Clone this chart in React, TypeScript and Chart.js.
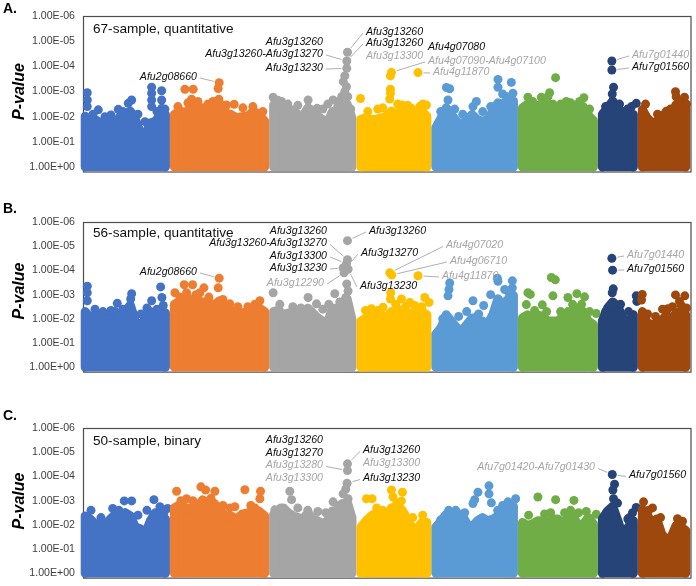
import React, { useEffect, useRef } from "react";
import { Chart, registerables } from "chart.js";

Chart.register(...registerables);

// ---------- data ----------
const CHROMOSOMES = ["Chr1", "Chr2", "Chr3", "Chr4", "Chr5", "Chr6", "Chr7", "Chr8"];
// genome-index span (marker positions) covered by each chromosome
const CHR_SPANS: [number, number][] = [
  [2.2, 82.5], [91.5, 181.8], [190.8, 269.2], [278.2, 344.2],
  [353.2, 430.8], [439.8, 510.8], [519.8, 550.8], [559.8, 603.2],
];
const GENOME_MAX = 609;
// y values are -log10(P)
const Y_TICKS = [0, 1, 2, 3, 4, 5, 6];
const Y_TICK_LABELS = ["1.00E+00", "1.00E-01", "1.00E-02", "1.00E-03", "1.00E-04", "1.00E-05", "1.00E-06"];

// upper envelope of the dense marker cloud, per chromosome (-log10 P, evenly along each chromosome)
const MASS_67 = [
  [2.02, 1.82, 1.89, 1.75, 1.69, 1.89, 1.75, 2.02, 2.09, 2.22, 1.89, 1.36, 1.29, 1.75, 1.82, 2.09, 2.09],
  [2.09, 2.22, 2.15, 2.42, 2.28, 2.35, 2.22, 2.28, 2.48, 2.15, 2.09, 1.95, 2.0, 2.02, 2.22, 2.09, 1.82],
  [2.48, 2.48, 2.35, 2.32, 2.22, 2.09, 2.02, 2.35, 2.22, 2.02, 1.89, 1.75, 2.2, 2.09, 2.6, 2.5, 1.95],
  [1.89, 1.95, 1.89, 1.89, 1.95, 2.02, 2.22, 2.09, 2.22, 2.09, 2.09, 2.09, 2.22, 2.02],
  [1.56, 1.95, 2.35, 2.09, 1.82, 1.69, 1.89, 2.09, 1.89, 1.82, 1.89, 2.22, 2.55, 2.48, 2.68, 2.62],
  [2.35, 2.5, 2.4, 2.45, 2.1, 2.4, 2.5, 2.2, 2.3, 2.4, 2.35, 2.2, 2.4, 2.05, 1.85],
  [2.09, 2.35, 2.62, 2.35, 2.15, 1.89, 2.09],
  [2.28, 1.95, 1.75, 1.82, 1.89, 2.22, 2.02, 2.48, 2.22, 2.35],
];
// individual markers standing out above the cloud: [genome index, -log10 P]
const PEAKS_67: [number, number][][] = [
  [[4.3, 2.95], [4.3, 2.66], [4.3, 2.4], [15.3, 2.27], [28, 2.07], [35.3, 2.29], [45.3, 2.53], [48.7, 2.66], [68.7, 3.17], [68.7, 2.93], [68.7, 2.66], [68.7, 2.4], [78.7, 3.03], [78.7, 2.66], [78.7, 2.33],
   [10, 2.1], [22, 2.0], [40, 2.2], [55, 2.1], [62, 1.8], [74, 2.2], [82, 2.3]],
  [[102, 3.09], [110.3, 3.09], [136.3, 3.35], [135.3, 3.12], [136, 2.69], [108.7, 2.69], [143.7, 2.46], [151.3, 2.49],
   [95, 2.4], [105, 2.55], [115, 2.6], [125, 2.5], [130, 2.6], [140, 2.45], [160, 2.35], [170, 2.4], [180, 2.2]],
  [[190.3, 2.77], [198.7, 2.6], [225.3, 2.66], [234.3, 2.33], [250.3, 2.66], [256, 2.6], [259, 2.8], [264.7, 4.56], [264, 4.21], [264, 3.92], [262, 3.62], [260.5, 3.39], [263.7, 3.19], [262, 2.99], [265, 2.79], [261, 2.66], [263.5, 2.4],
   [195, 2.65], [205, 2.5], [215, 2.45], [240, 2.3], [245, 2.5], [255, 2.4], [268, 2.3]],
  [[277.7, 2.72], [308.7, 3.76], [307.7, 3.62], [307.7, 3.09], [307.7, 2.93], [307, 2.7], [319.7, 2.46], [328.7, 2.33], [343.7, 2.46], [335.3, 3.75], [337, 2.4],
   [285, 2.2], [295, 2.3], [300, 2.35], [315, 2.5], [325, 2.45], [340, 2.5]],
  [[363.7, 3.16], [367, 3.11], [365.3, 2.66], [390.3, 2.4], [393.7, 2.6], [415.3, 3.48], [428.7, 3.36], [415.3, 3.17], [423.7, 2.8], [430.3, 2.93],
   [358, 2.2], [372, 2.3], [380, 2.1], [400, 2.2], [408, 2.4], [420, 2.9]],
  [[473, 3.55], [445.3, 2.77], [458.7, 2.77], [467, 2.95], [465.3, 2.79], [483.7, 2.6], [492, 2.46], [501.3, 2.75],
   [450, 2.6], [462, 2.6], [478, 2.5], [488, 2.55], [497, 2.6], [507, 2.3]],
  [[529.3, 4.21], [529.3, 3.85], [531, 3.17], [529.7, 2.9], [553.7, 2.53],
   [523, 2.4], [537, 2.5], [545, 2.3], [549, 2.4]],
  [[593, 2.99], [593.7, 2.79], [602, 2.77], [599.7, 2.53],
   [563, 2.5], [575, 2.1], [588, 2.3], [597, 2.6], [604, 2.5]],
];

const MASS_56 = [
  [2.30, 2.04, 2.17, 2.10, 2.17, 2.17, 2.30, 2.04, 2.30, 2.57, 1.91, 1.64, 2.04, 2.30, 1.91, 2.30, 2.24],
  [2.6, 2.75, 2.85, 2.8, 2.75, 2.7, 2.7, 2.55, 2.75, 2.45, 2.35, 2.2, 2.25, 2.3, 2.3, 2.45, 2.3],
  [2.30, 2.37, 2.17, 2.24, 2.17, 2.24, 2.17, 2.44, 2.24, 2.04, 1.91, 1.84, 2.44, 2.44, 2.57, 2.84, 1.97],
  [1.91, 2.04, 2.10, 2.04, 2.17, 2.04, 2.30, 2.24, 2.37, 2.17, 2.24, 2.24, 2.30, 2.17],
  [1.37, 1.64, 2.17, 1.91, 1.64, 1.51, 1.77, 2.04, 1.84, 1.91, 1.77, 2.17, 2.83, 2.57, 2.83, 2.97],
  [2.04, 2.17, 2.04, 2.17, 2.10, 1.91, 1.91, 1.91, 2.10, 2.30, 2.24, 2.44, 2.30, 1.91, 1.77],
  [1.91, 2.44, 2.70, 2.50, 2.04, 1.77, 2.17],
  [2.30, 1.84, 1.77, 1.77, 1.91, 2.17, 1.97, 2.24, 2.30, 2.17],
];
const PEAKS_56: [number, number][][] = [
  [[4.3, 3.35], [4.3, 3.08], [4.3, 2.75], [34.3, 2.64], [48.7, 3.04], [47.7, 2.82], [68.7, 2.75], [77.7, 3.32], [79, 2.88], [80.3, 2.55],
   [12, 2.4], [20, 2.3], [28, 2.35], [40, 2.4], [58, 2.2], [64, 2.45], [74, 2.4]],
  [[92, 3.08], [101.3, 3.41], [109.7, 3.41], [103.7, 3.08], [117, 3.08], [121, 3.28], [135.3, 3.28], [136.3, 3.68], [147, 2.62], [177, 2.75],
   [97, 2.9], [113, 3.0], [126, 2.9], [140, 2.8], [155, 2.5], [165, 2.5], [172, 2.6]],
  [[190.3, 3.08], [225.3, 2.88], [233.7, 2.62], [252, 3.04], [264.7, 5.23], [264.7, 4.44], [263.7, 4.28], [260.3, 4.10], [265.3, 4.05], [261.3, 3.90], [264, 3.44], [265.3, 3.15], [263, 2.88],
   [197, 2.6], [210, 2.5], [218, 2.45], [240, 2.4], [246, 2.6], [257, 2.7]],
  [[282.7, 2.35], [288.7, 2.42], [300.3, 2.48], [308, 3.08], [307.7, 2.82], [318.7, 2.82], [327, 2.68], [342, 2.88], [346.3, 2.68], [307, 3.90], [309, 3.81], [335.3, 3.78],
   [285, 2.3], [295, 2.35], [313, 2.6], [323, 2.5], [332, 2.55], [339, 2.5]],
  [[367, 3.48], [366.3, 3.21], [365.3, 2.95], [393.7, 2.08], [390.3, 2.75], [401, 2.55], [414.7, 3.68], [415.3, 3.55], [429.7, 3.57], [422, 3.21], [429.7, 3.28],
   [360, 2.0], [376, 2.1], [384, 2.3], [396, 2.2], [408, 3.0], [426, 3.1]],
  [[445.3, 3.08], [447.7, 3.01], [443.7, 2.59], [459.7, 2.58], [468.7, 3.71], [472.7, 3.61], [470.3, 2.95], [485.3, 2.88], [494.3, 3.04], [502, 2.91], [513.7, 2.22],
   [452, 2.35], [464, 2.3], [478, 2.3], [490, 2.6], [499, 2.6], [507, 2.3]],
  [[529.3, 4.50], [530, 4.01], [530.7, 3.24], [529.7, 3.08], [553.7, 2.95], [554.3, 2.72],
   [523, 2.3], [538, 2.6], [546, 2.3]],
  [[559.7, 3.01], [559, 2.78], [593, 2.99], [602.3, 2.95], [597, 2.72], [598.7, 2.55], [585.3, 2.42],
   [565, 2.2], [573, 2.1], [580, 2.4], [590, 2.5], [604, 2.45]],
];

const MASS_50 = [
  [2.37, 2.24, 2.04, 1.97, 1.97, 2.24, 2.44, 2.24, 2.50, 2.37, 1.91, 1.84, 1.64, 2.17, 2.50, 2.37, 2.24],
  [2.70, 2.84, 2.70, 2.70, 2.70, 3.03, 2.90, 2.90, 2.64, 2.37, 2.37, 2.24, 2.44, 2.50, 2.37, 2.57, 2.37],
  [2.44, 2.37, 2.70, 2.50, 2.37, 2.30, 2.24, 2.50, 2.24, 2.17, 2.04, 2.17, 2.57, 2.44, 2.70, 2.97, 2.30],
  [1.91, 2.17, 2.37, 2.50, 2.30, 2.24, 2.70, 2.64, 2.64, 2.30, 1.91, 1.84, 2.10, 2.10],
  [1.91, 2.17, 2.44, 2.30, 2.44, 2.44, 2.04, 1.91, 2.17, 2.30, 2.17, 2.24, 2.37, 2.57, 2.70, 2.77],
  [2.10, 1.97, 2.04, 2.17, 2.17, 2.10, 2.24, 2.24, 2.04, 2.30, 2.37, 1.97, 2.04, 2.30, 2.04],
  [2.24, 2.57, 2.77, 2.17, 1.51, 1.91, 2.17],
  [2.64, 2.44, 2.04, 2.24, 1.64, 1.37, 1.51, 1.97, 1.91, 1.77],
];
const PEAKS_50: [number, number][][] = [
  [[41.3, 2.99], [48.7, 2.99], [29.7, 2.68], [71, 3.04], [77, 2.75], [84.7, 2.68],
   [8, 2.6], [18, 2.3], [36, 2.6], [55, 2.4], [64, 2.6], [81, 2.5]],
  [[93.7, 3.39], [118, 3.57], [122.7, 3.44], [132, 3.39], [103.7, 3.08], [152, 2.75], [162, 3.45], [177.7, 3.39], [177, 3.08],
   [98, 3.0], [110, 3.0], [128, 3.1], [140, 2.8], [147, 2.7], [168, 2.8], [172, 2.7]],
  [[207, 3.39], [208.7, 3.04], [192, 2.62], [250.3, 2.95], [264.7, 4.52], [264.7, 4.24], [264.3, 3.72], [263, 3.48], [260.3, 3.28], [265.3, 3.08], [259.7, 2.88],
   [198, 2.7], [215, 2.7], [225, 2.6], [235, 2.55], [243, 2.5], [255, 2.8]],
  [[283.7, 3.08], [289.3, 3.08], [308.7, 3.44], [319.7, 3.35], [310.3, 3.15], [318.7, 2.99],
   [294, 2.7], [300, 2.6], [314, 2.9], [330, 2.3], [340, 2.4]],
  [[395.3, 3.35], [390.3, 2.88], [392, 3.04], [406.3, 3.61], [406.3, 3.28], [408.7, 2.91], [425.3, 2.95], [433, 3.08],
   [358, 2.2], [366, 2.6], [373, 2.6], [382, 2.5], [415, 2.6], [420, 2.8]],
  [[455.3, 3.15], [473, 3.04], [491.3, 3.01], [503.7, 2.55], [513.7, 2.44],
   [446, 2.4], [462, 2.45], [468, 2.5], [482, 2.5], [488, 2.6], [496, 2.5]],
  [[529.7, 4.08], [532, 3.68], [530.3, 3.44], [531, 3.08], [545.3, 2.24], [553.7, 2.72],
   [524, 2.5], [535, 2.9], [547, 2.3], [550, 2.5]],
  [[561, 2.95],
   [566, 2.6], [570, 2.7], [578, 2.3], [595, 2.25], [600, 2.15]],
];

type Note = { text: string; muted?: boolean; align: "start" | "end"; at: [number, number]; target?: [number, number] };

const NOTES_67: Note[] = [
  { text: "Afu2g08660", align: "end", at: [197, 77], target: [136.3, 3.35] },
  { text: "Afu3g13260", align: "end", at: [323, 42] },
  { text: "Afu3g13260-Afu3g13270", align: "end", at: [323, 54], target: [264, 4.21] },
  { text: "Afu3g13230", align: "end", at: [323, 68], target: [264, 3.92] },
  { text: "Afu3g13260", align: "start", at: [366, 32], target: [264.7, 4.56] },
  { text: "Afu3g13260", align: "start", at: [366, 43], target: [264, 4.21] },
  { text: "Afu3g13300", muted: true, align: "start", at: [366, 56] },
  { text: "Afu4g07080", align: "start", at: [428, 47] },
  { text: "Afu4g07090-Afu4g07100", muted: true, align: "start", at: [428, 61], target: [308.7, 3.76] },
  { text: "Afu4g11870", muted: true, align: "start", at: [433, 72], target: [335.3, 3.75] },
  { text: "Afu7g01440", muted: true, align: "start", at: [632, 55], target: [529.3, 4.21] },
  { text: "Afu7g01560", align: "start", at: [632, 67], target: [529.3, 3.85] },
];
const NOTES_56: Note[] = [
  { text: "Afu2g08660", align: "end", at: [197, 272], target: [136.3, 3.68] },
  { text: "Afu3g13260", align: "end", at: [327, 231] },
  { text: "Afu3g13260-Afu3g13270", align: "end", at: [327, 243.5], target: [264.7, 4.44] },
  { text: "Afu3g13300", align: "end", at: [327, 256], target: [263.7, 4.28] },
  { text: "Afu3g13230", align: "end", at: [327, 268], target: [260.3, 4.1] },
  { text: "Afu3g12290", muted: true, align: "end", at: [324, 283], target: [261.3, 3.9] },
  { text: "Afu3g13260", align: "start", at: [369, 231], target: [264.7, 5.23] },
  { text: "Afu3g13270", align: "start", at: [361, 253], target: [265.3, 4.2] },
  { text: "Afu3g13230", align: "start", at: [360, 286], target: [265.3, 4.05] },
  { text: "Afu4g07020", muted: true, align: "start", at: [446, 245.5], target: [307, 3.9] },
  { text: "Afu4g06710", muted: true, align: "start", at: [450, 261], target: [309, 3.81] },
  { text: "Afu4g11870", muted: true, align: "start", at: [442, 276], target: [335.3, 3.78] },
  { text: "Afu7g01440", muted: true, align: "start", at: [627, 255], target: [529.3, 4.5] },
  { text: "Afu7g01560", align: "start", at: [627, 269], target: [530, 4.01] },
];
const NOTES_50: Note[] = [
  { text: "Afu3g13260", align: "end", at: [323, 440] },
  { text: "Afu3g13270", align: "end", at: [323, 453] },
  { text: "Afu3g13280", muted: true, align: "end", at: [323, 465.5], target: [264.7, 4.24] },
  { text: "Afu3g13300", muted: true, align: "end", at: [323, 478] },
  { text: "Afu3g13260", align: "start", at: [363, 450.5], target: [264.7, 4.52] },
  { text: "Afu3g13300", muted: true, align: "start", at: [363, 463.5] },
  { text: "Afu3g13230", align: "start", at: [363, 478.5], target: [264.3, 3.72] },
  { text: "Afu7g01420-Afu7g01430", muted: true, align: "end", at: [595, 467.5], target: [529.7, 4.08] },
  { text: "Afu7g01560", align: "start", at: [629, 475.5], target: [529.7, 4.08] },
];

// ---------- styles / layout ----------
const CHR_COLORS = ["#4472C4", "#ED7D31", "#A5A5A5", "#FFC000", "#5B9BD5", "#70AD47", "#264478", "#9E480E"];
const FONT = "'Liberation Sans', Arial, Helvetica, sans-serif";
const CANVAS_W = 696;
const CANVAS_H = 190;
const Y_MIN = -0.18;

type PanelCfg = {
  top: number; padTop: number; letter: string; letterAt: [number, number];
  title: string; titleAt: [number, number]; axisTitleY: number;
  mass: number[][]; peaks: [number, number][][]; notes: Note[];
};

const PANELS: PanelCfg[] = [
  { top: 0, padTop: 16, letter: "A.", letterAt: [3, 9], title: "67-sample, quantitative", titleAt: [93, 29], axisTitleY: 91.5, mass: MASS_67, peaks: PEAKS_67, notes: NOTES_67 },
  { top: 196, padTop: 26, letter: "B.", letterAt: [3, 209], title: "56-sample, quantitative", titleAt: [93, 233.5], axisTitleY: 291, mass: MASS_56, peaks: PEAKS_56, notes: NOTES_56 },
  { top: 402, padTop: 26, letter: "C.", letterAt: [3, 416], title: "50-sample, binary", titleAt: [93, 441], axisTitleY: 501, mass: MASS_50, peaks: PEAKS_50, notes: NOTES_50 },
];

function ManhattanPanel({ cfg }: { cfg: PanelCfg }) {
  const ref = useRef<HTMLCanvasElement | null>(null);

  useEffect(() => {
    const canvas = ref.current;
    if (!canvas) return;
    const datasets: any[] = [];
    CHROMOSOMES.forEach((name, i) => {
      const [x0, x1] = CHR_SPANS[i];
      const env = cfg.mass[i];
      const pts: { x: number; y: number }[] = [{ x: x0, y: 0 }];
      env.forEach((v, k) => pts.push({ x: x0 + ((x1 - x0) * k) / (env.length - 1), y: v }));
      pts.push({ x: x1, y: 0 });
      const col = CHR_COLORS[i];
      datasets.push({
        label: name,
        data: pts,
        showLine: true,
        fill: "start",
        backgroundColor: col,
        borderColor: col,
        borderWidth: 9,
        borderJoinStyle: "round",
        borderCapStyle: "round",
        pointRadius: 0,
        tension: 0,
        clip: false,
        order: 100 - 2 * i,
      });
      datasets.push({
        label: name + " top markers",
        data: cfg.peaks[i].map(([x, y]) => ({ x, y })),
        showLine: false,
        fill: false,
        pointRadius: 4.5,
        pointBorderWidth: 0,
        pointBackgroundColor: col,
        backgroundColor: col,
        borderColor: col,
        clip: false,
        order: 99 - 2 * i,
      });
    });

    const padBottom = CANVAS_H - cfg.padTop - 155.5;

    const framePlugin = {
      id: "frame",
      beforeDatasetsDraw(chart: any) {
        const { ctx, chartArea: a } = chart;
        ctx.save();
        ctx.strokeStyle = "#4d4d4d";
        ctx.lineWidth = 1.2;
        ctx.strokeRect(a.left + 0.5, a.top + 0.5, a.right - a.left - 1, a.bottom - a.top);
        ctx.restore();
      },
    };

    const textPlugin = {
      id: "texts",
      afterDatasetsDraw(chart: any) {
        const { ctx, scales } = chart;
        const off = cfg.top;
        ctx.save();
        ctx.fillStyle = "#000";
        ctx.font = `bold 14px ${FONT}`;
        ctx.textAlign = "left";
        ctx.textBaseline = "middle";
        ctx.fillText(cfg.letter, cfg.letterAt[0], cfg.letterAt[1] - off);
        ctx.font = `13.6px ${FONT}`;
        ctx.fillStyle = "#111";
        ctx.fillText(cfg.title, cfg.titleAt[0], cfg.titleAt[1] - off);
        ctx.save();
        ctx.translate(20, cfg.axisTitleY - off);
        ctx.rotate(-Math.PI / 2);
        ctx.font = `italic bold 16px ${FONT}`;
        ctx.textAlign = "center";
        ctx.fillStyle = "#000";
        ctx.fillText("P-value", 0, 0);
        ctx.restore();
        ctx.font = `italic 10.6px ${FONT}`;
        ctx.textBaseline = "middle";
        cfg.notes.forEach((n) => {
          const tx = n.at[0];
          const ty = n.at[1] - off;
          ctx.fillStyle = n.muted ? "#A6A6A6" : "#0D0D0D";
          ctx.textAlign = n.align === "end" ? "right" : "left";
          ctx.fillText(n.text, tx, ty);
          if (n.target) {
            const px = scales.x.getPixelForValue(n.target[0]);
            const py = scales.y.getPixelForValue(n.target[1]);
            const sx = n.align === "end" ? tx + 3 : tx - 3;
            const sy = ty + 1;
            const dx = px - sx;
            const dy = py - sy;
            const len = Math.sqrt(dx * dx + dy * dy) || 1;
            const ex = px - (dx / len) * 5.5;
            const ey = py - (dy / len) * 5.5;
            ctx.strokeStyle = "#9a9a9a";
            ctx.lineWidth = 0.8;
            ctx.beginPath();
            ctx.moveTo(sx, sy);
            ctx.lineTo(ex, ey);
            ctx.stroke();
          }
        });
        ctx.restore();
      },
    };

    const chart = new Chart(canvas, {
      type: "line",
      data: { datasets },
      options: {
        animation: false,
        responsive: false,
        maintainAspectRatio: false,
        events: [],
        layout: { padding: { top: cfg.padTop, bottom: padBottom, left: 0, right: 4 } },
        plugins: {
          legend: { display: false },
          tooltip: { enabled: false },
          filler: { drawTime: "beforeDatasetDraw" },
        } as any,
        scales: {
          x: { type: "linear", min: 0, max: GENOME_MAX, display: false },
          y: {
            type: "linear",
            min: Y_MIN,
            max: 6,
            afterBuildTicks: (s: any) => {
              s.ticks = Y_TICKS.map((v) => ({ value: v }));
            },
            afterFit: (s: any) => {
              s.width = 83;
            },
            grid: { display: false, drawTicks: false },
            border: { display: false },
            ticks: {
              padding: 8,
              color: "#404040",
              font: { family: FONT, size: 10.6 },
              callback: (_v: any, idx: number) => Y_TICK_LABELS[idx],
            },
          },
        } as any,
      },
      plugins: [framePlugin, textPlugin],
    } as any);
    return () => chart.destroy();
  }, [cfg]);

  return (
    <canvas
      ref={ref}
      width={CANVAS_W}
      height={CANVAS_H}
      style={{ position: "absolute", left: 0, top: cfg.top, width: CANVAS_W, height: CANVAS_H, display: "block" }}
    />
  );
}

export default function App() {
  return (
    <div style={{ position: "absolute", left: 0, top: 0, width: 696, height: 586, overflow: "hidden", background: "#fff" }}>
      {PANELS.map((p) => (
        <ManhattanPanel key={p.letter} cfg={p} />
      ))}
    </div>
  );
}
